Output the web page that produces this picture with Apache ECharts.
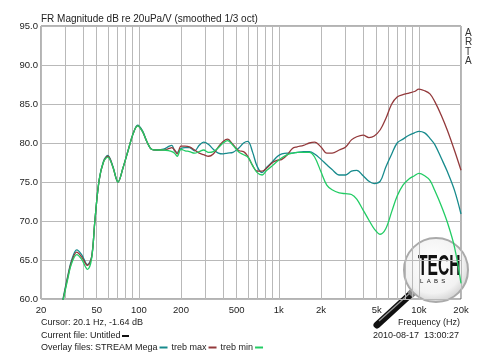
<!DOCTYPE html>
<html>
<head>
<meta charset="utf-8">
<script src="https://cdn.jsdelivr.net/npm/echarts@6/dist/echarts.min.js"></script>
<style>
html,body{margin:0;padding:0;background:#fff;}
#chart{width:500px;height:355px;}
</style>
</head>
<body>
<div id="chart"></div>
<script>
// Frequencies (Hz)
const freqs = [
  27, 29, 31, 33, 36, 39, 43, 46, 48.5, 52,
  56, 60, 65, 71, 77, 84, 91, 98, 106, 114,
  123, 135, 150, 165, 172, 180, 188, 200, 214, 230,
  250, 270, 290, 315, 340, 370, 400, 430, 470, 520,
  560, 600, 650, 700, 760, 820, 900, 980, 1050, 1150,
  1250, 1350, 1500, 1650, 1800, 2000, 2200, 2400, 2700, 3000,
  3300, 3600, 4000, 4400, 4800, 5300, 5800, 6400, 7000, 7700,
  8500, 9300, 10000, 11000, 12000, 13000, 14500, 16000, 18000, 20000
];
// STREAM Mega (teal)
const streamMega = [
  57.5, 60.4, 62.9, 64.9, 66.3, 65.7, 64.4, 65.4, 70.0, 75.2,
  77.7, 78.4, 77.1, 75.0, 76.8, 79.1, 81.2, 82.3, 81.6, 80.2,
  79.2, 79.1, 79.2, 79.6, 79.7, 79.0, 78.8, 79.3, 79.4, 79.4,
  79.0, 79.7, 80.1, 79.8, 79.2, 78.7, 78.6, 78.7, 78.8, 79.4,
  80.0, 80.2, 78.8, 77.0, 76.2, 76.9, 77.6, 78.3, 78.6, 78.7,
  78.7, 78.8, 78.9, 78.9, 78.6, 77.9, 77.2, 76.6, 75.9, 75.9,
  76.4, 76.5, 75.8, 75.1, 74.8, 75.1, 76.9, 78.6, 80.0, 80.5,
  81.0, 81.3, 81.5, 81.3, 80.6, 79.8, 78.0, 76.3, 73.9, 70.9
];
// treb max (dark red)
const trebMax = [
  57.3, 60.2, 62.7, 64.7, 66.0, 65.4, 64.3, 65.4, 70.0, 75.2,
  77.6, 78.3, 77.0, 75.0, 76.8, 79.1, 81.2, 82.2, 81.5, 80.2,
  79.2, 79.1, 79.1, 79.3, 79.4, 79.1, 78.6, 79.6, 79.6, 79.5,
  79.1, 78.7, 78.5, 78.3, 78.6, 79.5, 80.2, 80.5, 79.8, 79.0,
  78.9, 78.3, 77.1, 76.4, 76.4, 76.8, 77.5, 77.8, 77.9, 78.5,
  79.3, 79.5, 79.7, 80.0, 80.1, 79.5, 78.7, 78.7, 79.1, 79.5,
  80.4, 80.8, 81.0, 80.7, 80.9, 81.7, 83.1, 85.0, 85.9, 86.2,
  86.4, 86.6, 86.9, 86.7, 86.3, 85.3, 83.5, 81.6, 79.0, 76.5
];
// treb min (green)
const trebMin = [
  57.2, 60.1, 62.5, 64.5, 65.7, 65.1, 63.8, 65.2, 70.0, 75.2,
  77.6, 78.2, 77.0, 75.0, 76.8, 79.1, 81.2, 82.2, 81.5, 80.2,
  79.2, 79.1, 79.1, 79.0, 78.9, 78.7, 78.3, 79.2, 79.0, 78.9,
  78.7, 78.9, 79.1, 78.8, 78.9, 79.4, 80.0, 80.3, 79.7, 78.8,
  78.5, 78.2, 77.1, 76.2, 75.9, 76.5, 77.1, 77.7, 78.1, 78.5,
  78.7, 78.8, 78.8, 78.8, 78.2, 76.3, 74.6, 74.0, 73.6, 73.5,
  73.4, 72.8, 71.4, 70.1, 69.0, 68.3, 69.0, 71.2, 73.2, 74.6,
  75.4, 75.8, 76.1, 75.8, 75.2, 73.9, 71.9, 69.8, 66.6, 62.0
];
// Axis grid and label values
const gridFreqs = [20,30,40,50,60,70,80,90,100,200,300,400,500,600,700,800,900,
  1000,2000,3000,4000,5000,6000,7000,8000,9000,10000,20000];
const labelFreqs = [20,50,100,200,500,1000,2000,5000,10000,20000];
const seriesNames = ['STREAM Mega', 'treb max', 'treb min'];
const seriesColors = ['#168a8c', '#93393b', '#22cc64'];
const seriesValues = [streamMega, trebMax, trebMin];

const FONT = '"Liberation Sans", Arial, sans-serif';
const chart = echarts.init(document.getElementById('chart'), null, {renderer: 'canvas'});

const option = {
  backgroundColor: '#ffffff',
  animation: false,
  title: {
    text: 'FR Magnitude dB re 20uPa/V (smoothed 1/3 oct)',
    left: 41, top: 14, padding: 0,
    textStyle: {fontFamily: FONT, fontSize: 10, fontWeight: 'normal', color: '#222'}
  },
  legend: {
    left: 95, top: 343, padding: 0,
    align: 'right', itemGap: 4, itemWidth: 8, itemHeight: 2,
    icon: 'rect', selectedMode: false,
    textStyle: {fontFamily: FONT, fontSize: 9, color: '#222', padding: [0, -3, 0, 0]},
    data: seriesNames
  },
  grid: {
    left: 41, right: 39, top: 26, bottom: 56,
    show: true, borderColor: '#666', borderWidth: 1, backgroundColor: '#fff'
  },
  xAxis: {
    type: 'log', logBase: 10, min: 20, max: 20000,
    axisLine: {show: false},
    axisTick: {show: false, customValues: gridFreqs},
    axisLabel: {
      customValues: labelFreqs, margin: 6,
      fontFamily: FONT, fontSize: 9.5, color: '#222',
      formatter: function (v) {
        const r = Math.round(v);
        return r >= 1000 ? (r / 1000) + 'k' : String(r);
      }
    },
    splitLine: {show: true, lineStyle: {color: '#b9b9b9', width: 1}}
  },
  yAxis: {
    type: 'value', min: 60, max: 95, interval: 5,
    axisLine: {show: false}, axisTick: {show: false},
    axisLabel: {
      margin: 3, fontFamily: FONT, fontSize: 9.5, color: '#222',
      formatter: function (v) { return v.toFixed(1); }
    },
    splitLine: {show: true, lineStyle: {color: '#b9b9b9', width: 1}}
  },
  series: seriesNames.map(function (name, k) {
    return {
      name: name, type: 'line', smooth: 0.35, showSymbol: false, clip: true,
      color: seriesColors[k],
      lineStyle: {width: 1.3, color: seriesColors[k]},
      data: freqs.map(function (f, i) { return [f, seriesValues[k][i]]; })
    };
  }),
  graphic: [
    {type: 'text', left: 465, top: 28, style: {text: 'A\nR\nT\nA', font: '10px ' + FONT, lineHeight: 9.4, fill: '#333'}},
    {type: 'text', left: 41, top: 318, style: {text: 'Cursor: 20.1 Hz, -1.64 dB', font: '9px ' + FONT, fill: '#222'}},
    {type: 'text', left: 41, top: 331, style: {text: 'Current file: Untitled', font: '9px ' + FONT, fill: '#222'}},
    {type: 'rect', shape: {x: 122, y: 335, width: 7, height: 2}, style: {fill: '#111'}},
    {type: 'text', left: 41, top: 343, style: {text: 'Overlay files:', font: '9px ' + FONT, fill: '#222'}},
    {type: 'text', right: 40, top: 318, style: {text: 'Frequency (Hz)', font: '9px ' + FONT, fill: '#222'}},
    {type: 'text', right: 41, top: 331, style: {text: '2010-08-17  13:00:27', font: '9px ' + FONT, fill: '#222'}},
    // Tech Labs magnifier logo
    {type: 'line', shape: {x1: 377, y1: 325, x2: 414, y2: 291}, style: {stroke: '#111', lineWidth: 7, lineCap: 'round'}},
    {type: 'line', shape: {x1: 379, y1: 321, x2: 410, y2: 293}, style: {stroke: '#9a9a9a', lineWidth: 1.2}},
    {type: 'line', shape: {x1: 410, y1: 295, x2: 417, y2: 288}, style: {stroke: '#888', lineWidth: 8}},
    {type: 'circle', shape: {cx: 436, cy: 270, r: 32},
      style: {
        fill: new echarts.graphic.RadialGradient(0.45, 0.4, 0.65, [
          {offset: 0, color: '#ffffff'}, {offset: 0.7, color: '#f2f2f2'}, {offset: 1, color: '#c8c8c8'}
        ]),
        stroke: '#aaaaaa', lineWidth: 2
      }},
    {type: 'text', x: 418, y: 252, scaleX: 0.52,
      style: {text: 'TECH', font: 'bold 30px ' + FONT, fill: '#111'}},
    {type: 'text', x: 420, y: 278, style: {text: 'L  A  B  S', font: '6px ' + FONT, fill: '#111'}}
  ]
};
chart.setOption(option);
</script>
</body>
</html>
